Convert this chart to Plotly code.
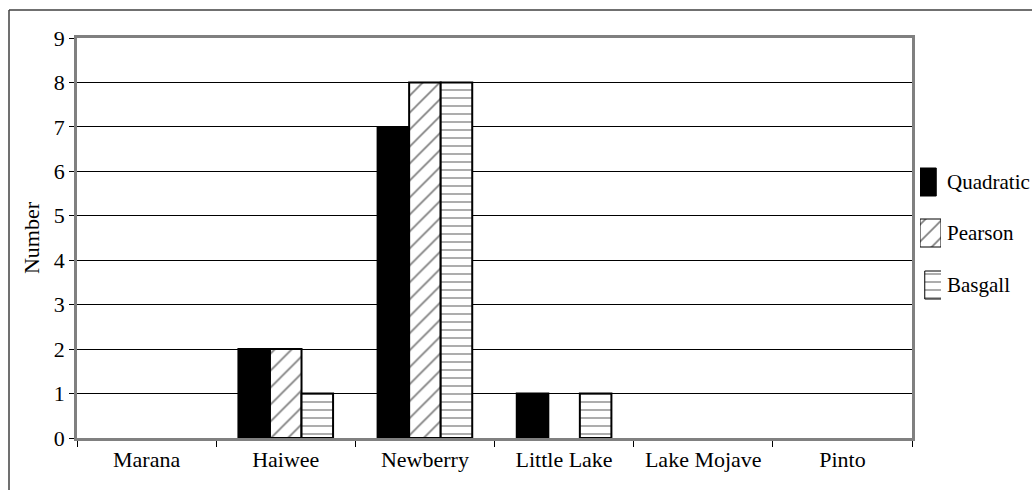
import plotly.graph_objects as go

# Counts per site for each method
sites = ["Marana", "Haiwee", "Newberry", "Little Lake", "Lake Mojave", "Pinto"]
quadratic = [0, 2, 7, 1, 0, 0]
pearson = [0, 2, 8, 0, 0, 0]
basgall = [0, 1, 8, 1, 0, 0]
methods = ["Quadratic", "Pearson", "Basgall"]
y_ticks = list(range(0, 10))

FONT = "Liberation Serif"
FS = 22

# Canvas and plot-area geometry in pixels
W, H = 1032, 490
L, T, B = 77, 38, 52
PLOT_RIGHT = 912
AREA_W = W - L            # width between left margin and canvas edge
AREA_H = H - T - B


def px_x(px):
    return (px - L) / AREA_W


def px_y(py):
    return (H - B - py) / AREA_H


# Per-method marker styles
styles = {
    "Quadratic": dict(color="black"),
    "Pearson": dict(color="white",
                    pattern=dict(shape="/", fgcolor="black", bgcolor="white",
                                 size=12, solidity=0.14, fillmode="overlay")),
    "Basgall": dict(color="white",
                    pattern=dict(shape="-", fgcolor="black", bgcolor="white",
                                 size=8, solidity=0.16, fillmode="overlay")),
}


def edge_widths(vals, w):
    # no outline on empty bars
    return [w if v > 0 else 0 for v in vals]


fig = go.Figure()
for name, vals in zip(methods, [quadratic, pearson, basgall]):
    fig.add_trace(go.Bar(
        name=name, x=sites, y=vals, showlegend=False,
        marker=dict(**styles[name],
                    line=dict(color="black", width=edge_widths(vals, 2))),
    ))

# Legend swatches: drawn as bars on a small overlay axis at the right
sw_left, sw_right = 920, 941
sw_tops = [168, 219, 271]
sw_h = 28
for name, top in zip(methods, sw_tops):
    fig.add_trace(go.Bar(
        x=[0.5], y=[sw_h], base=[(H - B) - (top + sw_h)], width=[1],
        xaxis="x2", yaxis="y2", showlegend=False, hoverinfo="skip",
        marker=dict(**styles[name], line=dict(color="black", width=1)),
    ))

annotations = [
    dict(text=name, x=px_x(945), y=px_y(top + sw_h / 2), xref="paper",
         yref="paper", xanchor="left", yanchor="middle", showarrow=False,
         font=dict(family=FONT, size=21, color="black"))
    for name, top in zip(methods, sw_tops)
]

fig.update_layout(
    width=W, height=H,
    margin=dict(l=L, r=0, t=T, b=B, autoexpand=False),
    barmode="group", bargap=0.32, bargroupgap=0,
    paper_bgcolor="white", plot_bgcolor="rgba(0,0,0,0)",
    font=dict(family=FONT, size=FS, color="black"),
    showlegend=False,
    xaxis=dict(
        domain=[0, px_x(PLOT_RIGHT)],
        showline=True, linecolor="#808080", linewidth=2.5, mirror=True,
        ticks="outside", tickson="boundaries", ticklen=6, tickcolor="black",
        showgrid=False, tickfont=dict(family=FONT, size=FS),
    ),
    yaxis=dict(
        range=[0, 9], tickvals=y_ticks, showline=True, linecolor="#808080",
        linewidth=2.5, mirror=True, ticks="outside", ticklen=5,
        tickcolor="black", showgrid=True, gridcolor="black", gridwidth=1,
        zeroline=False, tickfont=dict(family=FONT, size=FS),
        title=dict(text="Number", font=dict(family=FONT, size=FS), standoff=9),
    ),
    xaxis2=dict(domain=[px_x(sw_left), px_x(sw_right)], range=[0, 1],
                anchor="y2", visible=False, fixedrange=True),
    yaxis2=dict(domain=[0, 1], range=[0, AREA_H], anchor="x2",
                visible=False, fixedrange=True),
    annotations=annotations,
    shapes=[
        dict(type="line", xref="paper", yref="paper",
             x0=px_x(9), x1=px_x(1040), y0=px_y(10), y1=px_y(10),
             line=dict(color="#404040", width=1.5)),
        dict(type="line", xref="paper", yref="paper",
             x0=px_x(9), x1=px_x(9), y0=px_y(10), y1=px_y(500),
             line=dict(color="#404040", width=1.5)),
    ],
)

fig.write_html("out.html")
